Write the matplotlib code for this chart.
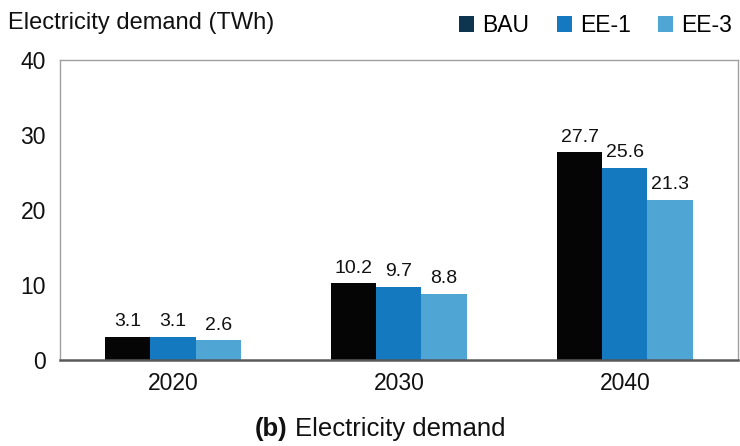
import matplotlib
matplotlib.use('Agg')
import matplotlib.pyplot as plt
from matplotlib.patches import Patch
import numpy as np

years = ['2020', '2030', '2040']
scenarios = ['BAU', 'EE-1', 'EE-3']
bau = [3.1, 10.2, 27.7]
ee1 = [3.1, 9.7, 25.6]
ee3 = [2.6, 8.8, 21.3]

bar_colors = ['#050505', '#1479be', '#4fa6d5']
legend_colors = ['#0d3550', '#1479be', '#4fa6d5']

plt.rcParams['font.family'] = ['Liberation Sans', 'DejaVu Sans']

fig = plt.figure(figsize=(7.4, 4.46), dpi=100)
ax = fig.add_axes([0.081, 0.193, 0.916, 0.672])

x = np.arange(len(years))
w = 0.2
for i, vals in enumerate([bau, ee1, ee3]):
    bars = ax.bar(x + (i - 1) * w, vals, width=w, color=bar_colors[i], edgecolor='none')
    for b, v in zip(bars, vals):
        ax.text(b.get_x() + b.get_width() / 2, v + 1.45, f'{v:.1f}',
                ha='center', va='baseline', fontsize=14, color='#111111')

ax.set_xlim(-0.5, 2.5)
ax.set_ylim(0, 40)
ax.set_yticks([0, 10, 20, 30, 40])
ax.set_xticks(x)
ax.set_xticklabels(years)
ax.tick_params(axis='both', length=0, labelsize=16.5, colors='#111111')
ax.tick_params(axis='y', pad=10)
ax.tick_params(axis='x', pad=9)
for side in ['left', 'top', 'right']:
    ax.spines[side].set_color('#a0a0a0')
    ax.spines[side].set_linewidth(1)
ax.spines['bottom'].set_color('#5a5a5a')
ax.spines['bottom'].set_linewidth(1.8)

fig.text(0.011, 0.935, 'Electricity demand (TWh)', fontsize=17, ha='left', va='baseline', color='#111111')

handles = [Patch(facecolor=c, edgecolor='none') for c in legend_colors]
fig.legend(handles, scenarios, loc='upper right', bbox_to_anchor=(1.017, 1.015), ncol=3,
           frameon=False, fontsize=16.5, handlelength=0.65, handleheight=0.65,
           handletextpad=0.35, columnspacing=1.2)

fig.text(0.388, 0.022, '(b)', fontsize=18.5, fontweight='bold', ha='right', va='baseline', color='#111111')
fig.text(0.398, 0.022, 'Electricity demand', fontsize=18.5, ha='left', va='baseline', color='#111111')

fig.savefig('out.png', dpi=100)
